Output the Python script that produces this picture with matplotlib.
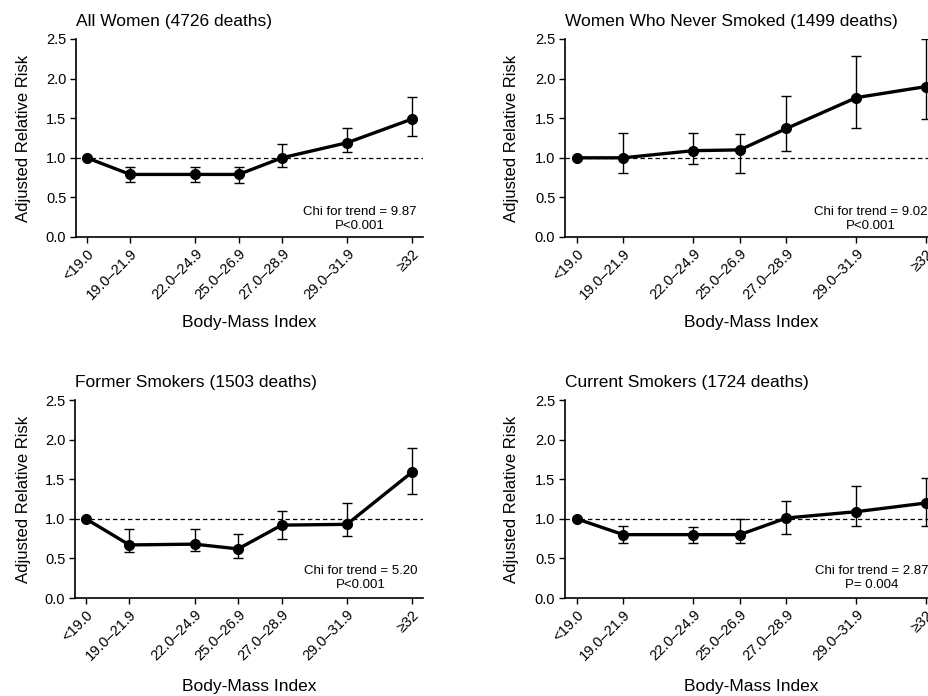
import matplotlib
matplotlib.use("Agg")
import matplotlib.pyplot as plt

plt.rcParams['font.family'] = ['Liberation Sans', 'DejaVu Sans']

categories = ["<19.0", "19.0–21.9", "22.0–24.9", "25.0–26.9", "27.0–28.9", "29.0–31.9", "≥32"]
x_pos = [0, 1, 2.5, 3.5, 4.5, 6, 7.5]

titles = ["All Women (4726 deaths)", "Women Who Never Smoked (1499 deaths)",
          "Former Smokers (1503 deaths)", "Current Smokers (1724 deaths)"]

all_rr = [1.0, 0.79, 0.79, 0.79, 1.0, 1.19, 1.49]
all_lo = [1.0, 0.70, 0.70, 0.68, 0.89, 1.07, 1.28]
all_hi = [1.0, 0.88, 0.89, 0.89, 1.18, 1.38, 1.77]

never_rr = [1.0, 1.0, 1.09, 1.10, 1.37, 1.76, 1.90]
never_lo = [1.0, 0.81, 0.92, 0.81, 1.08, 1.38, 1.49]
never_hi = [1.0, 1.31, 1.31, 1.30, 1.78, 2.28, 2.50]

former_rr = [1.0, 0.67, 0.68, 0.62, 0.92, 0.93, 1.59]
former_lo = [1.0, 0.58, 0.59, 0.51, 0.74, 0.78, 1.31]
former_hi = [1.0, 0.87, 0.87, 0.81, 1.10, 1.20, 1.89]

current_rr = [1.0, 0.80, 0.80, 0.80, 1.01, 1.09, 1.20]
current_lo = [1.0, 0.70, 0.70, 0.69, 0.81, 0.91, 0.91]
current_hi = [1.0, 0.91, 0.90, 1.0, 1.22, 1.41, 1.52]

chi_texts = ["Chi for trend = 9.87\nP<0.001", "Chi for trend = 9.02\nP<0.001",
             "Chi for trend = 5.20\nP<0.001", "Chi for trend = 2.87\nP= 0.004"]

series = [(all_rr, all_lo, all_hi), (never_rr, never_lo, never_hi),
          (former_rr, former_lo, former_hi), (current_rr, current_lo, current_hi)]

W, H = 929, 696
fig = plt.figure(figsize=(W / 100, H / 100), dpi=100)

# axes boxes in pixels: (left, top, right, bottom)
boxes = [(76, 39, 423, 237), (565, 39, 938, 237),
         (75, 400, 423, 598), (565, 400, 938, 598)]
# chi text center x, center y (pixels)
chi_pos = [(360, 219), (871, 219), (361, 578), (872, 578)]
# x-label top (pixels), y-label center x (pixels)
xlabel_top = [315, 315, 679, 679]
ylabel_cx = [24, 512, 24, 512]

for i, (rr, lo, hi) in enumerate(series):
    l, t, r, b = boxes[i]
    ax = fig.add_axes([l / W, 1 - b / H, (r - l) / W, (b - t) / H])
    ax.set_xlim(-0.25, 7.75)
    ax.set_ylim(0, 2.5)
    ax.axhline(1.0, color='black', lw=0.9, ls=(0, (3.5, 2.5)), zorder=1)
    yerr_lo = [v - l_ for v, l_ in zip(rr, lo)]
    yerr_hi = [h_ - v for v, h_ in zip(rr, hi)]
    ax.errorbar(x_pos[1:], rr[1:], yerr=[yerr_lo[1:], yerr_hi[1:]], fmt='none',
                ecolor='black', elinewidth=1.0, capsize=3.8, capthick=1.0, zorder=2)
    ax.plot(x_pos, rr, color='black', lw=2.4, marker='o', ms=7, zorder=3)
    ax.spines['top'].set_visible(False)
    ax.spines['right'].set_visible(False)
    ax.spines['left'].set_linewidth(1.2)
    ax.spines['bottom'].set_linewidth(1.2)
    ax.set_xticks(x_pos)
    ax.set_xticklabels(categories, rotation=45, ha='right', rotation_mode='anchor',
                       fontsize=10.5)
    ax.set_yticks([0, 0.5, 1.0, 1.5, 2.0, 2.5])
    ax.set_yticklabels(["0.0", "0.5", "1.0", "1.5", "2.0", "2.5"], fontsize=10.5)
    ax.tick_params(axis='both', direction='out', length=4, width=1.0, color='black')
    ax.tick_params(axis='x', pad=3)
    ax.tick_params(axis='y', pad=3)
    ax.set_ylabel("Adjusted Relative Risk", fontsize=12)
    ax.set_xlabel("Body-Mass Index", fontsize=12.5)
    w_px, h_px = r - l, b - t
    ax.xaxis.set_label_coords(0.5, (b - xlabel_top[i]) / h_px)
    ax.yaxis.set_label_coords((ylabel_cx[i] + 7 - l) / w_px, 0.5)
    ax.set_title(titles[i], fontsize=12.5, loc='left', pad=9, x=0.0)
    cx, cy = chi_pos[i]
    fig.text(cx / W, 1 - cy / H, chi_texts[i], fontsize=9.5, ha='center', va='center',
             linespacing=1.3)

fig.savefig("out.png", dpi=100)
